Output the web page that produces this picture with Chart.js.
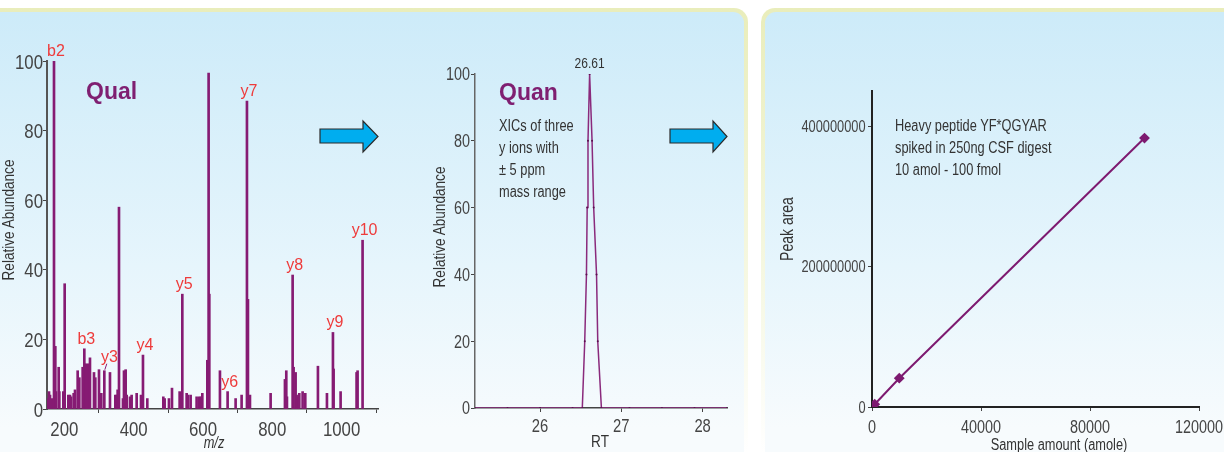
<!DOCTYPE html>
<html>
<head>
<script src="https://cdn.jsdelivr.net/npm/chart.js"></script>
<style>
  body { margin:0; width:1224px; height:452px; overflow:hidden; background:#fff; position:relative;
         font-family:'Liberation Sans', Arial, sans-serif; }
  .panel { position:absolute; top:8px; height:470px; border-radius:14px;
           background:linear-gradient(#e9edbb, #f6f8e4 60%, #ffffff 95%); }
  .panel .inner { position:absolute; left:4px; top:4px; right:4px; bottom:4px; border-radius:11px;
           background:linear-gradient(#cdebf9, #e6f5fc 55%, #f7fbfd 90%); }
  canvas { position:absolute; top:0; }
  .tag { position:absolute; color:#7f1f71; font-weight:bold; font-size:23px; line-height:23px; }
  .note { position:absolute; color:#333; font-size:16px; line-height:22px; white-space:nowrap;
          transform:scaleX(0.8); transform-origin:left top; }
  .vtitle { position:absolute; color:#333; font-size:17px; line-height:20px; white-space:nowrap;
            transform:translate(-50%,-50%) rotate(-90deg) scaleX(0.8); }
  .htitle { position:absolute; color:#333; font-size:16px; line-height:20px; white-space:nowrap;
            transform:translate(-50%,-50%) scaleX(0.8); }
</style>
</head>
<body>
<div class="panel" style="left:-20px; width:768px;"><div class="inner"></div></div>
<div class="panel" style="left:761px; width:500px;"><div class="inner"></div></div>

<canvas id="spectrum" width="392" height="452" style="left:0; width:392px; height:452px;"></canvas>
<canvas id="xic" width="330" height="452" style="left:420px; width:330px; height:452px;"></canvas>
<canvas id="calib" width="540" height="452" style="left:760px; width:540px; height:452px;"></canvas>

<svg width="1224" height="452" style="position:absolute; left:0; top:0;">
  <polygon points="320,129 363,129 363,121 378,136.5 363,152 363,143 320,143" fill="#00adef" stroke="#2b2b2b" stroke-width="1.2"/>
  <polygon points="670,129 713,129 713,121 727,136.5 713,152 713,143 670,143" fill="#00adef" stroke="#2b2b2b" stroke-width="1.2"/>
</svg>

<div class="tag" style="left:86px; top:80px;">Qual</div>
<div class="tag" style="left:499px; top:81px;">Quan</div>
<div class="note" style="left:499px; top:115px;">XICs of three<br>y ions with<br>± 5 ppm<br>mass range</div>
<div class="note" style="left:895px; top:115px;">Heavy peptide YF*QGYAR<br>spiked in 250ng CSF digest<br>10 amol - 100 fmol</div>
<div class="vtitle" style="left:9px; top:220px;">Relative Abundance</div>
<div class="vtitle" style="left:440px; top:227px;">Relative Abundance</div>
<div class="vtitle" style="left:787px; top:229px; font-size:17.5px;">Peak area</div>
<div class="htitle" style="left:214px; top:443px; font-style:italic;">m/z</div>
<div class="htitle" style="left:600px; top:442px; font-size:17px;">RT</div>
<div class="htitle" style="left:1059px; top:445px;">Sample amount (amole)</div>

<script>
// MS/MS spectrum (Qual)
var mzValues = [151.9, 155.8, 158.7, 165.4, 170.2, 174.0, 176.0, 183.7, 185.6, 197.1, 201.0, 211.5, 216.3, 219.2,
  226.9, 230.8, 238.5, 243.3, 252.9, 257.7, 261.5, 266.3, 269.2, 274.0, 285.6, 289.4, 300.0, 303.8, 306.7,
  315.4, 331.7, 347.1, 351.0, 353.8, 357.7, 369.2, 372.1, 376.9, 379.8, 389.4, 394.2, 408.7, 421.2, 426.9,
  439.4, 485.6, 489.4, 501.9, 510.6, 532.7, 540.4, 552.9, 556.7, 564.4, 581.7, 589.4, 594.2, 598.1, 612.5,
  616.3, 618.3, 649.0, 671.1, 694.2, 711.5, 726.9, 729.8, 735.6, 795.2, 836.5, 840.4, 842.3, 858.7, 861.5,
  867.3, 870.2, 873.1, 877.9, 887.5, 895.2, 931.7, 957.7, 975.0, 976.9, 997.1, 1043.2, 1046.1, 1060.5];
var intensities = [3, 5, 4, 3, 100, 18, 5, 12, 5, 5, 36, 4, 4, 3.5,
  4.5, 5.5, 11, 9, 12, 17.3, 13, 12.5, 13, 14.7, 10.5, 9, 11.3, 4.5, 4.5,
  11, 10.5, 4, 4, 5.5, 58, 3, 11, 11.3, 4, 3.5, 4, 4.5, 4, 15.5,
  3, 3.5, 3, 3, 6, 5, 33, 4.5, 4, 4, 3.5, 3.5, 3.5, 4.5, 14,
  96.5, 33, 11, 5, 3, 4, 88.5, 31.5, 4, 4.5, 8.5, 11, 3.5, 38.5, 12,
  10.5, 4, 3.5, 4.5, 5, 4.5, 12.3, 4.5, 22, 11.5, 5, 10.5, 11, 48.5];
var ionNames = ['b2', 'b3', 'y3', 'y4', 'y5', 'y6', 'y7', 'y8', 'y9', 'y10'];
var ionMz = [170.2, 257.7, 315.4, 426.9, 540.4, 671.1, 726.9, 858.7, 975.0, 1060.5];
var mzTicks = [200, 400, 600, 800, 1000];
var abundanceTicks = [0, 20, 40, 60, 80, 100];

// XIC (Quan)
var rtValues = [25.2, 25.6, 26.0, 26.4, 26.52, 26.55, 26.571, 26.58, 26.59, 26.61, 26.64, 26.66, 26.695, 26.71, 26.755, 27.1, 27.5, 27.9, 28.3];
var xicValues = [0, 0, 0, 0, 0, 20, 40, 60, 80, 100, 80, 60, 40, 20, 0, 0, 0, 0, 0];
var apexLabel = '26.61';
var rtTicks = [26, 27, 28];

// calibration curve
var amountValues = [10, 100, 1000, 10000, 100000];
var peakAreaValues = [40000, 400000, 3900000, 41000000, 383000000];
var amountTicks = [0, 40000, 80000, 120000];
var areaTicks = [0, 200000000, 400000000];

var SQUEEZE = 0.8;   // condensed look, no narrow font installed
var PURPLE = '#861b73';

function fixedTicks(list) {
  return function(scale) { scale.ticks = list.map(function(v) { return {value: v}; }); };
}
function axis(extra) {
  var base = {
    grid: {display: true, drawOnChartArea: false, drawTicks: true, tickLength: 4, color: '#444'},
    border: {display: true, color: '#444', width: 1.5},
    ticks: {display: false}
  };
  return Object.assign(base, extra);
}

// tick labels drawn squeezed, at the scale's own tick positions
var narrowTicks = {
  id: 'narrowTicks',
  afterDraw: function(chart, args, opts) {
    var ctx = chart.ctx;
    ['x', 'y'].forEach(function(id) {
      var s = chart.scales[id], o = opts[id];
      ctx.save();
      ctx.font = o.size + "px 'Liberation Sans', Arial, sans-serif";
      ctx.fillStyle = '#444';
      ctx.textBaseline = 'alphabetic';
      ctx.scale(SQUEEZE, 1);
      s.ticks.forEach(function(t) {
        var p = s.getPixelForValue(t.value), label = String(t.value);
        if (s.isHorizontal()) {
          ctx.textAlign = 'center';
          ctx.fillText(label, p / SQUEEZE, s.top + o.gap);
        } else {
          ctx.textAlign = 'right';
          ctx.fillText(label, (s.right - o.gap) / SQUEEZE, p + o.size * 0.358);
        }
      });
      ctx.restore();
    });
  }
};

var ionLabels = {
  id: 'ionLabels',
  afterDatasetsDraw: function(chart) {
    var ctx = chart.ctx, x = chart.scales.x, y = chart.scales.y;
    ctx.save();
    ctx.font = "16px 'Liberation Sans', Arial, sans-serif";
    ctx.fillStyle = '#ee3b3b';
    ctx.textAlign = 'center';
    ctx.textBaseline = 'alphabetic';
    ionNames.forEach(function(name, i) {
      var h = intensities[mzValues.indexOf(ionMz[i])];
      var bx = x.getPixelForValue(ionMz[i]), by = y.getPixelForValue(h);
      if (name === 'y3') {
        ctx.fillText(name, bx + 5, by - 9);
        ctx.strokeStyle = PURPLE; ctx.lineWidth = 1;
        ctx.beginPath(); ctx.moveTo(bx + 2.5, by - 7); ctx.lineTo(bx + 0.5, by - 1); ctx.stroke();
      } else {
        ctx.fillText(name, bx + 2, by - 5);
      }
    });
    ctx.restore();
  }
};

new Chart(document.getElementById('spectrum'), {
  type: 'bar',
  data: {datasets: [{
    data: mzValues.map(function(m, i) { return {x: m, y: intensities[i]}; }),
    backgroundColor: PURPLE, borderWidth: 0, barThickness: 2
  }]},
  options: {
    responsive: false, animation: false,
    layout: {padding: {left: 0, right: 14, top: 61, bottom: 0}},
    plugins: {legend: {display: false}, tooltip: {enabled: false},
      narrowTicks: {x: {size: 21, gap: 27}, y: {size: 21, gap: 4}}},
    scales: {
      x: axis({type: 'linear', min: 150, max: 1105, offset: false,
        afterBuildTicks: fixedTicks(mzTicks), afterFit: function(s) { s.height = 43; }}),
      y: axis({min: 0, max: 100, afterBuildTicks: fixedTicks(abundanceTicks), afterFit: function(s) { s.width = 47; },
        border: {display: true, color: '#555', width: 2}})
    }
  },
  plugins: [ionLabels, narrowTicks]
});

var apexPlugin = {
  id: 'apex',
  afterDatasetsDraw: function(chart) {
    var ctx = chart.ctx, i = xicValues.indexOf(Math.max.apply(null, xicValues));
    var px = chart.scales.x.getPixelForValue(rtValues[i]), py = chart.scales.y.getPixelForValue(xicValues[i]);
    ctx.save();
    ctx.font = "15px 'Liberation Sans', Arial, sans-serif";
    ctx.fillStyle = '#333';
    ctx.textAlign = 'center';
    ctx.scale(SQUEEZE, 1);
    ctx.fillText(apexLabel, px / SQUEEZE, py - 6);
    ctx.restore();
  }
};

new Chart(document.getElementById('xic'), {
  type: 'line',
  data: {datasets: [{
    data: rtValues.map(function(t, i) { return {x: t, y: xicValues[i]}; }),
    borderColor: '#8a2a7c', borderWidth: 1.5, tension: 0,
    pointRadius: 1, pointBackgroundColor: '#5b0f4f', pointBorderWidth: 0
  }]},
  options: {
    responsive: false, animation: false,
    layout: {padding: {left: 10, right: 23, top: 74, bottom: 0}},
    plugins: {legend: {display: false}, tooltip: {enabled: false},
      narrowTicks: {x: {size: 18.5, gap: 24}, y: {size: 18, gap: 5}}},
    scales: {
      x: axis({type: 'linear', min: 25.2, max: 28.3,
        afterBuildTicks: fixedTicks(rtTicks), afterFit: function(s) { s.height = 44; }}),
      y: axis({min: 0, max: 100, afterBuildTicks: fixedTicks(abundanceTicks), afterFit: function(s) { s.width = 45; },
        border: {display: true, color: '#666', width: 1.5}})
    }
  },
  plugins: [apexPlugin, narrowTicks]
});

new Chart(document.getElementById('calib'), {
  type: 'scatter',
  data: {datasets: [{
    data: amountValues.map(function(a, i) { return {x: a, y: peakAreaValues[i]}; }),
    showLine: true, borderColor: '#7d1a70', borderWidth: 2,
    pointStyle: 'rectRot', pointRadius: 4, pointBackgroundColor: '#7d1a70', pointBorderColor: '#7d1a70'
  }]},
  options: {
    responsive: false, animation: false,
    layout: {padding: {left: 15, right: 101, top: 91, bottom: 0}},
    plugins: {legend: {display: false}, tooltip: {enabled: false},
      narrowTicks: {x: {size: 18, gap: 25.5}, y: {size: 16, gap: 6.5}}},
    scales: {
      x: axis({type: 'linear', min: 0, max: 120000,
        afterBuildTicks: fixedTicks(amountTicks), afterFit: function(s) { s.height = 45; },
        border: {display: true, color: '#222', width: 2}}),
      y: axis({min: 0, max: 450000000, afterBuildTicks: fixedTicks(areaTicks), afterFit: function(s) { s.width = 97; },
        border: {display: true, color: '#222', width: 2}})
    }
  },
  plugins: [narrowTicks]
});
</script>
</body>
</html>
